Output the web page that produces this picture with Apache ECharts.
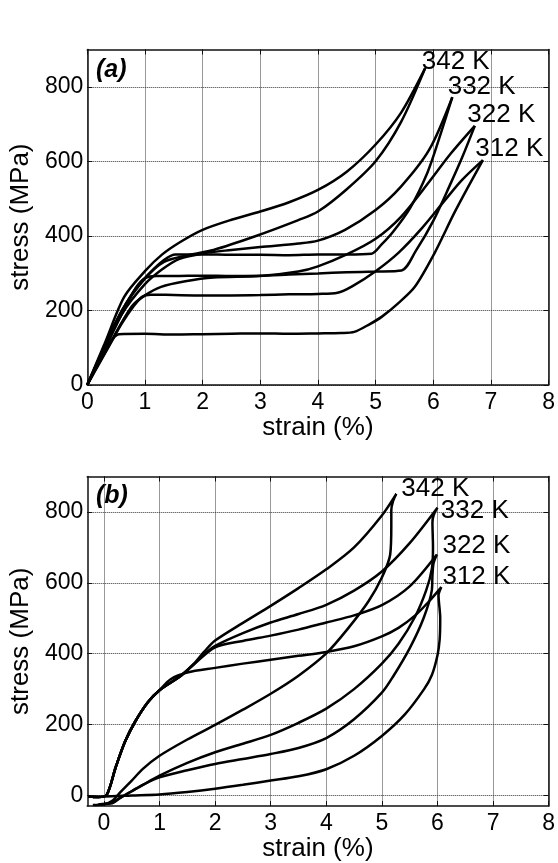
<!DOCTYPE html>
<html>
<head>
<meta charset="utf-8">
<script src="https://cdn.jsdelivr.net/npm/echarts@6/dist/echarts.min.js"></script>
<style>
html, body { margin: 0; padding: 0; background: #fff; }
#chart { width: 558px; height: 863px; }
</style>
</head>
<body>
<div id="chart"></div>
<script>
// tick labels
const xTicks = [0, 1, 2, 3, 4, 5, 6, 7, 8]
const yTicks = [0, 200, 400, 600, 800]

// (a) stress-strain, strain %, stress MPa
const a342s1 = [[0,0],[0.3,110],[0.64,236],[1.0,305],[1.3,350],[1.62,384],[2.0,416],[2.5,443],[3.0,465],[3.5,490],[4.0,523],[4.5,572],[5.0,645],[5.44,730],[5.86,850]]
const a342s2 = [[0,0],[0.3,100],[0.6,200],[1.0,285],[1.33,330],[1.75,348],[2.19,362],[2.9,398],[3.66,442],[4.0,465],[4.5,525],[5.0,600],[5.44,705],[5.86,850]]
const a332s1 = [[0,0],[0.3,95],[0.6,190],[1.0,270],[1.3,310],[1.6,338],[2.02,353],[2.5,362],[3.0,370],[3.66,379],[4.0,387],[4.47,416],[5.0,469],[5.44,532],[5.93,631],[6.33,772]]
const a332s2 = [[0,0],[0.3,105],[0.5,170],[0.8,250],[1.05,295],[1.33,335],[1.53,350],[2.0,350],[2.5,349],[3.0,349],[3.5,348],[4.0,350],[4.5,350],[4.93,352],[5.1,376],[5.3,410],[5.6,475],[5.9,570],[6.1,660],[6.33,772]]
const a322s1 = [[0,0],[0.3,85],[0.77,210],[1.0,240],[1.28,263],[1.7,278],[2.19,288],[3.0,292],[3.66,304],[4.0,318],[4.5,350],[5.0,392],[5.44,451],[5.93,545],[6.3,620],[6.72,695]]
const a322s2 = [[0,0],[0.3,95],[0.6,190],[0.85,262],[1.0,286],[1.2,292],[1.5,292],[2.0,293],[2.5,292],[3.0,293],[3.5,296],[4.0,299],[4.5,302],[5.0,304],[5.45,307],[5.7,360],[6.0,440],[6.3,540],[6.5,610],[6.72,695]]
const a312s1 = [[0,0],[0.2,55],[0.4,110],[0.6,165],[0.8,210],[0.95,236],[1.1,242],[1.5,241],[2.0,240],[2.5,240],[3.0,241],[3.5,243],[4.0,244],[4.34,247],[4.6,265],[5.0,305],[5.4,355],[5.8,420],[6.2,495],[6.5,550],[6.86,603]]
const a312s2 = [[0,0],[0.2,60],[0.4,115],[0.55,136],[1.0,137],[1.5,135],[2.0,136],[2.5,137],[3.0,138],[3.5,137],[4.0,138],[4.4,139],[4.63,142],[4.9,163],[5.11,183],[5.4,220],[5.68,263],[6.02,353],[6.36,460],[6.6,530],[6.86,603]]
const labelsA = [[5.8, 867, '342 K'], [6.25, 800, '332 K'], [6.59, 724, '322 K'], [6.73, 633, '312 K']]

// (b) loading / unloading loops
const bStart = [[-0.28,-3],[-0.1,-4],[0.05,2],[0.21,79],[0.38,152],[0.56,208],[0.79,263],[1.0,297]]
const b312Load = [[1.2,328],[1.5,347],[2.0,360],[2.5,372],[3.0,383],[3.5,394],[4.0,405],[4.5,421],[5.0,449],[5.3,473],[5.6,508],[5.85,548],[6.07,588]]
const b312Unload = [[6.02,565],[6.05,500],[6.04,440],[6.0,395],[5.9,340],[5.76,300],[5.41,228],[5.0,168],[4.5,112],[4.0,74],[3.5,54],[3.0,42],[2.5,30],[2.0,19],[1.5,10],[1.0,3],[0.5,0],[0.0,-3],[-0.2,-6]]
const b322Load = [[1.38,337],[1.62,370],[2.0,418],[2.5,436],[3.0,451],[3.5,468],[4.0,488],[4.5,508],[5.0,537],[5.5,590],[5.99,680]]
const b322Unload = [[5.93,655],[5.91,620],[5.9,580],[5.75,500],[5.5,415],[5.2,335],[5.0,290],[4.5,215],[4.0,162],[3.5,134],[3.0,117],[2.5,103],[2.0,89],[1.5,71],[1.0,51],[0.7,30],[0.5,12],[0.3,-6],[0.15,-22],[-0.05,-24]]
const b332Load = [[1.38,337],[1.62,371],[1.8,398],[2.0,422],[2.5,458],[3.0,488],[3.5,512],[4.0,538],[4.5,578],[5.0,632],[5.5,712],[6.0,812]]
const b332Unload = [[5.93,790],[5.91,770],[5.92,700],[5.9,640],[5.8,580],[5.6,505],[5.3,428],[5.0,372],[4.5,300],[4.0,245],[3.5,205],[3.0,171],[2.5,146],[2.0,122],[1.5,92],[1.0,56],[0.7,30],[0.5,12],[0.3,-6],[0.1,-22],[-0.1,-25]]
const b342Load = [[1.38,338],[1.62,372],[1.8,405],[2.0,437],[2.5,487],[3.0,535],[3.5,585],[4.0,638],[4.5,700],[5.0,790],[5.26,851]]
const b342Unload = [[5.2,830],[5.17,805],[5.17,760],[5.15,680],[5.0,615],[4.76,548],[4.41,475],[4.0,401],[3.5,338],[3.0,287],[2.5,242],[2.0,199],[1.5,158],[1.0,112],[0.7,75],[0.5,42],[0.3,10],[0.15,-15],[0.0,-25],[-0.2,-27]]
const labelsB = [[5.35, 865, '342 K'], [6.06, 804, '332 K'], [6.09, 705, '322 K'], [6.09, 616, '312 K']]

const font = 'Liberation Sans'
const myChart = echarts.init(document.getElementById('chart'))

const boxLine = { show: true, onZero: false, lineStyle: { color: '#111', width: 1.5 } }
const gridLine = { show: true, lineStyle: { type: 'dotted', color: '#333', width: 1 } }

function bottomAxis(grid, min, max) {
	return {
		type: 'value', gridIndex: grid, min: min, max: max, position: 'bottom',
		name: 'strain (%)', nameLocation: 'middle', nameGap: 28,
		nameTextStyle: { fontFamily: font, fontSize: 26, color: '#000' },
		axisLine: boxLine,
		axisTick: { show: true, inside: true, length: 5, customValues: xTicks, lineStyle: { color: '#111' } },
		axisLabel: { customValues: xTicks, margin: 6, fontFamily: font, fontSize: 23, color: '#000' },
		splitLine: gridLine,
	}
}
function topAxis(grid, min, max) {
	return {
		type: 'value', gridIndex: grid, min: min, max: max, position: 'top',
		axisLine: boxLine,
		axisTick: { show: true, inside: true, length: 5, customValues: xTicks, lineStyle: { color: '#111' } },
		axisLabel: { show: false },
		splitLine: { show: false },
	}
}
function leftAxis(grid, min, max) {
	return {
		type: 'value', gridIndex: grid, min: min, max: max, position: 'left',
		name: 'stress (MPa)', nameLocation: 'middle', nameGap: 48,
		nameTextStyle: { fontFamily: font, fontSize: 26, color: '#000' },
		axisLine: boxLine,
		axisTick: { show: true, inside: true, length: 5, customValues: yTicks, lineStyle: { color: '#111' } },
		axisLabel: { customValues: yTicks, margin: 4, fontFamily: font, fontSize: 23, color: '#000' },
		splitLine: gridLine,
	}
}
function rightAxis(grid, min, max) {
	return {
		type: 'value', gridIndex: grid, min: min, max: max, position: 'right',
		axisLine: boxLine,
		axisTick: { show: true, inside: true, length: 5, customValues: yTicks, lineStyle: { color: '#111' } },
		axisLabel: { show: false },
		splitLine: { show: false },
	}
}

function curve(data, xi, yi) {
	return {
		type: 'line', xAxisIndex: xi, yAxisIndex: yi, data: data,
		smooth: 0.3, showSymbol: false, symbol: 'none', silent: true,
		lineStyle: { color: '#000', width: 2.5 },
	}
}
function tempLabels(list, xi, yi) {
	return {
		type: 'scatter', xAxisIndex: xi, yAxisIndex: yi, symbolSize: 0, silent: true,
		itemStyle: { opacity: 1 },
		data: list.map(d => ({ value: [d[0], d[1]], name: d[2] })),
		label: { show: true, position: 'right', distance: 0, formatter: '{b}', fontFamily: font, fontSize: 26, color: '#000' },
	}
}

const option = {
	backgroundColor: '#fff',
	animation: false,
	grid: [
		{ left: 80, top: 49.5, width: 469.5, height: 335.3 },
		{ left: 80, top: 476.5, width: 469.5, height: 336.3 },
	],
	xAxis: [bottomAxis(0, 0, 8), topAxis(0, 0, 8), bottomAxis(1, -0.3, 8), topAxis(1, -0.3, 8)],
	yAxis: [leftAxis(0, 0, 900), rightAxis(0, 0, 900), leftAxis(1, -30, 900), rightAxis(1, -30, 900)],
	graphic: [
		{ type: 'text', left: 96, top: 58, style: { text: '(a)', font: 'italic bold 25px "Liberation Sans"', fill: '#000' } },
		{ type: 'text', left: 96, top: 484, style: { text: '(b)', font: 'italic bold 25px "Liberation Sans"', fill: '#000' } },
	],
	series: [
		curve(a342s1, 0, 0), curve(a342s2, 0, 0),
		curve(a332s1, 0, 0), curve(a332s2, 0, 0),
		curve(a322s1, 0, 0), curve(a322s2, 0, 0),
		curve(a312s1, 0, 0), curve(a312s2, 0, 0),
		tempLabels(labelsA, 0, 0),
		curve(bStart.concat(b312Load, b312Unload), 2, 2),
		curve(bStart.concat(b322Load, b322Unload), 2, 2),
		curve(bStart.concat(b332Load, b332Unload), 2, 2),
		curve(bStart.concat(b342Load, b342Unload), 2, 2),
		tempLabels(labelsB, 2, 2),
	],
}

myChart.setOption(option)
</script>
</body>
</html>
